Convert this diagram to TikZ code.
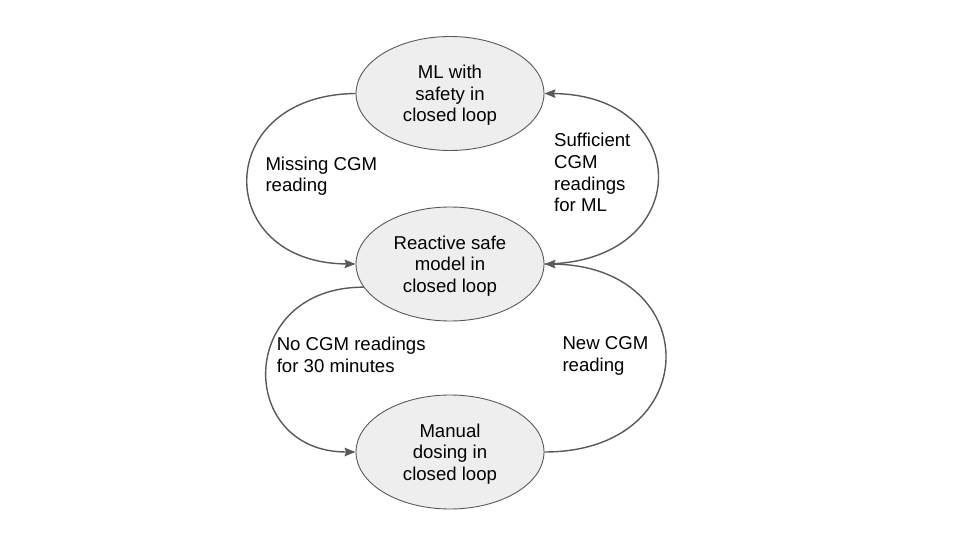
\documentclass[tikz,border=0pt]{standalone}
\usepackage{fontspec}
\setmainfont{Liberation Sans}
\usetikzlibrary{arrows.meta,shapes.geometric}
\definecolor{linegray}{HTML}{595959}
\definecolor{fillgray}{HTML}{EEEEEE}
\begin{document}
\begin{tikzpicture}[x=1pt,y=-1pt,
  state/.style={ellipse, draw=linegray, line width=0.9pt, fill=fillgray,
    minimum width=188pt, minimum height=114pt, inner sep=0pt, align=center,
    text depth=0pt, font=\fontsize{18.6}{21.6}\selectfont},
  lbl/.style={anchor=north west, inner sep=0pt, align=left,
    font=\fontsize{18.6}{21.6}\selectfont},
  conn/.style={draw=linegray, line width=1.4pt,
    -{Stealth[length=11pt,width=8.5pt,inset=1.5pt]}}]
\useasboundingbox (0,0) rectangle (960,540);
\node[state] (ml) at (450,93.5) {ML with\\safety in\\closed loop};
\node[state] (mid) at (450,264) {Reactive safe\\model in\\closed loop};
\node[state] (man) at (450,452) {Manual\\dosing in\\closed loop};
\draw[conn] (ml.west) .. controls (212,95) and (212,263) .. (mid.west);
\draw[conn] (mid.east) .. controls (695,263) and (695,95) .. (ml.east);
\draw[conn] (mid.195) .. controls (236,287) and (236,452) .. (man.west);
\draw[conn] (man.east) .. controls (705,452) and (705,266) .. (mid.east);
\node[lbl] (l1) at (265.3,156.7) {Missing CGM\\reading};
\node[lbl] (l2) at (554,133.3) {Sufficient\\CGM\\readings\\for ML};
\node[lbl] (l3) at (276.6,337.3) {No CGM readings\\for 30 minutes};
\node[lbl] (l4) at (562.3,336.3) {New CGM\\reading};
\end{tikzpicture}
\end{document}
